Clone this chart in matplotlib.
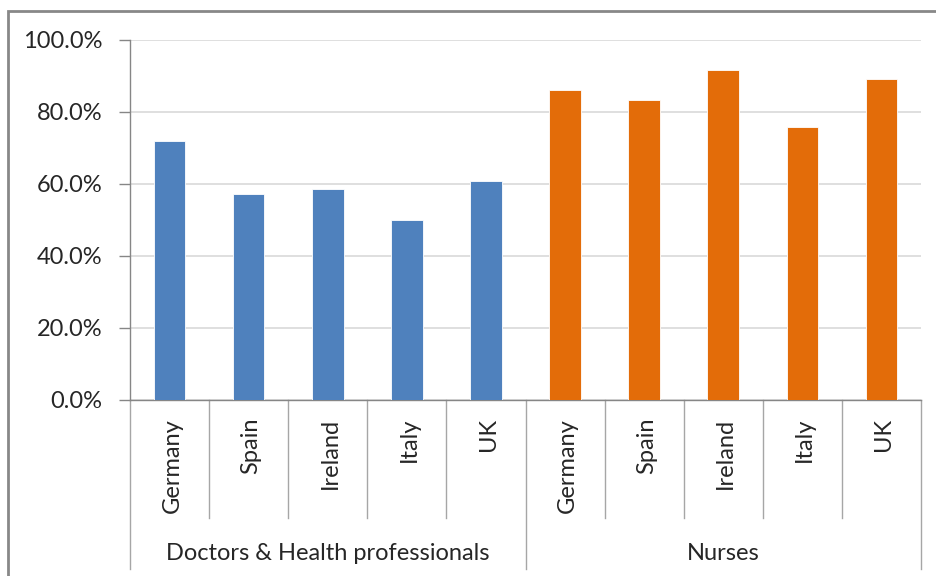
import matplotlib.pyplot as plt
import matplotlib.transforms as mtransforms
from matplotlib.patches import Rectangle
from matplotlib.ticker import FuncFormatter

plt.rcParams['font.family'] = ['Lato', 'DejaVu Sans']

# data
countries = ["Germany", "Spain", "Ireland", "Italy", "UK"]
groups = ["Doctors & Health professionals", "Nurses"]
doctors = [72.0, 57.2, 58.6, 49.9, 60.7]
nurses = [86.1, 83.3, 91.8, 75.9, 89.3]

blue = "#4F81BD"
orange = "#E36C09"
grid_c = "#D9D9D9"
axis_c = "#868686"
txt_c = "#262626"
fs = 17

fig = plt.figure(figsize=(9.36, 5.76), dpi=100)
W, H = 936, 576
ax = fig.add_axes([130 / W, 1 - 400 / H, (921 - 130) / W, 360 / H])

n = len(countries)
xs_doc = list(range(n))
xs_nur = list(range(n, 2 * n))
ax.bar(xs_doc, doctors, width=0.4, color=blue, edgecolor="white", linewidth=0.6, zorder=3)
ax.bar(xs_nur, nurses, width=0.4, color=orange, edgecolor="white", linewidth=0.6, zorder=3)

ax.set_xlim(-0.5, 2 * n - 0.5)
ax.set_ylim(0, 100)
ax.set_yticks([0, 20, 40, 60, 80, 100])
ax.yaxis.set_major_formatter(FuncFormatter(lambda v, p: f"{v:.1f}%"))
ax.tick_params(axis="y", length=8, width=1, color=axis_c, labelsize=fs, pad=12,
               labelcolor=txt_c)
ax.set_xticks([])
ax.grid(axis="y", color=grid_c, linewidth=1.2, zorder=0)

for side in ["top", "right"]:
    ax.spines[side].set_visible(False)
ax.spines["left"].set_color(axis_c)
ax.spines["bottom"].set_color(axis_c)
ax.spines["left"].set_linewidth(1)
ax.spines["bottom"].set_linewidth(1)

# multi-level category axis
trans = mtransforms.blended_transform_factory(ax.transData, ax.transAxes)
inner_y = -118 / 360
outer_y = -169 / 360
for i in range(2 * n + 1):
    xb = i - 0.5
    low = outer_y if i % n == 0 else inner_y
    ax.plot([xb, xb], [0, low], transform=trans, color="#A6A6A6", lw=1,
            clip_on=False)

labels = countries + countries
for i, lab in enumerate(labels):
    ax.text(i + 0.03, -18 / 360, lab, transform=trans, rotation=90, ha="center",
            va="top", fontsize=fs, color=txt_c)

for g, name in enumerate(groups):
    ax.text(g * n + (n - 1) / 2, -153 / 360, name, transform=trans, ha="center",
            va="center", fontsize=fs, color=txt_c)

# chart border
fig.patches.append(Rectangle((8 / W, -0.01), 2, 1 - 11 / H + 0.01,
                             transform=fig.transFigure, fill=False,
                             edgecolor="#888888", linewidth=2))

fig.savefig("out.png", dpi=100)
